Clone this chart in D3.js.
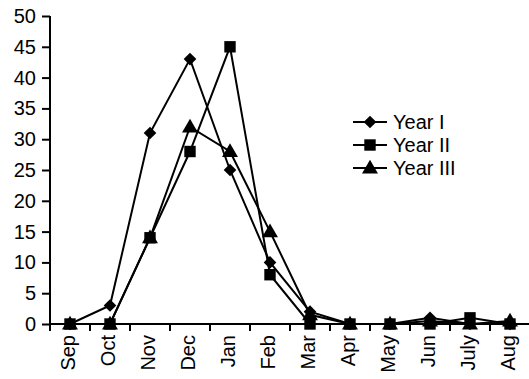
<!DOCTYPE html>
<html>
<head>
<meta charset="utf-8">
<style>
  body { margin: 0; background: #fff; }
  svg { display: block; font-family: "Liberation Sans", Arial, sans-serif; }
</style>
</head>
<body>
<svg width="529" height="379"></svg>
<script src="https://d3js.org/d3.v7.min.js"></script>
<script>
var months = ["Sep", "Oct", "Nov", "Dec", "Jan", "Feb", "Mar", "Apr", "May", "Jun", "July", "Aug"];
var yearI   = [0, 3, 31, 43, 25, 10, 2, 0, 0, 1, 0, 0];
var yearII  = [0, 0, 14, 28, 45, 8, 0, 0, 0, 0, 1, 0];
var yearIII = [0, 0, 14, 32, 28, 15, 1.5, 0, 0, 0.5, 0, 0.5];
var seriesNames = ["Year I", "Year II", "Year III"];
var yTicks = [0, 5, 10, 15, 20, 25, 30, 35, 40, 45, 50];

var svg = d3.select("svg");
var mLeft = 50, mRight = 530, mTop = 16, mBottom = 324;

var x = d3.scaleBand().domain(months).range([mLeft, mRight]);
var y = d3.scaleLinear().domain([0, 50]).range([mBottom, mTop]);

// y axis
var yAxis = svg.append("g")
    .attr("transform", "translate(" + mLeft + ",0)")
    .call(d3.axisLeft(y).tickValues(yTicks).tickSize(8).tickPadding(6));
yAxis.selectAll("path,line").attr("stroke", "#000").attr("stroke-width", 2);
yAxis.select(".domain").attr("d", "M0," + mTop + "V" + mBottom);
yAxis.selectAll("text").attr("font-size", 20).attr("fill", "#000")
    .attr("font-family", "Liberation Sans, Arial, sans-serif");

// x axis
var xAxis = svg.append("g").attr("transform", "translate(0," + mBottom + ")");
xAxis.append("line").attr("x1", mLeft).attr("x2", mRight).attr("stroke", "#000").attr("stroke-width", 2);
xAxis.selectAll(".tk").data(months).enter().append("line")
    .attr("x1", function (d) { return x(d); }).attr("x2", function (d) { return x(d); })
    .attr("y1", 0).attr("y2", 7).attr("stroke", "#000").attr("stroke-width", 2);
xAxis.selectAll(".lb").data(months).enter().append("text")
    .attr("transform", function (d) { return "translate(" + (x(d) + x.bandwidth() / 2 + 5) + ",11)rotate(-90)"; })
    .attr("text-anchor", "end")
    .attr("font-size", 20)
    .text(function (d) { return d; });

var all = [yearI, yearII, yearIII];
// diamond = square turned 45 degrees
var symbols = [
  d3.symbol().type(d3.symbolSquare).size(80),
  d3.symbol().type(d3.symbolSquare).size(130),
  d3.symbol().type(d3.symbolTriangle).size(110)
];
var rot = [45, 0, 0];
var line = d3.line()
    .x(function (d, i) { return x(months[i]) + x.bandwidth() / 2; })
    .y(function (d) { return y(d); });

all.forEach(function (vals, s) {
  svg.append("path").datum(vals)
      .attr("d", line).attr("fill", "none")
      .attr("stroke", "#000").attr("stroke-width", 2);
});
all.forEach(function (vals, s) {
  svg.append("g").selectAll("path").data(vals).enter().append("path")
      .attr("d", symbols[s])
      .attr("transform", function (d, i) {
        return "translate(" + (x(months[i]) + x.bandwidth() / 2) + "," + (y(d) + (s === 2 ? 1 : 0)) + ")rotate(" + rot[s] + ")";
      })
      .attr("fill", "#000");
});

// legend
var lg = svg.append("g");
seriesNames.forEach(function (name, s) {
  var ly = 122 + s * 23;
  lg.append("line").attr("x1", 353).attr("x2", 387).attr("y1", ly).attr("y2", ly)
      .attr("stroke", "#000").attr("stroke-width", 2);
  lg.append("path").attr("d", symbols[s])
      .attr("transform", "translate(370," + (ly + (s === 2 ? 1 : 0)) + ")rotate(" + rot[s] + ")").attr("fill", "#000");
  lg.append("text").attr("x", 393).attr("y", ly + 7).attr("font-size", 20).text(name);
});
</script>
</body>
</html>
